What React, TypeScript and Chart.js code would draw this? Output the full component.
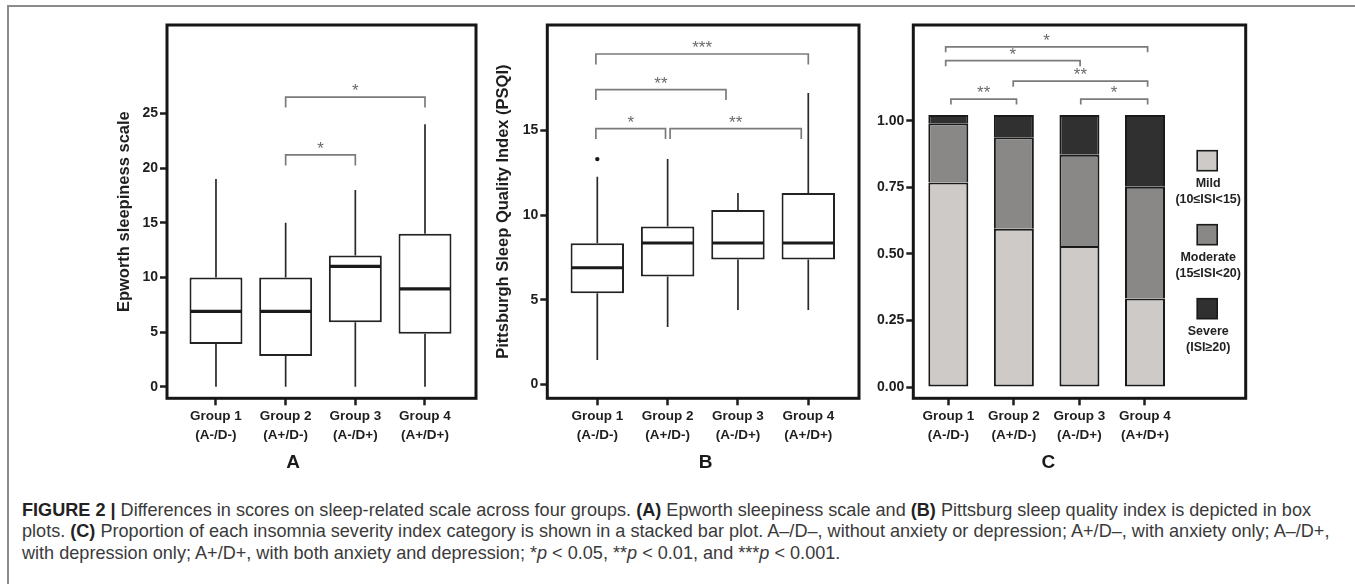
import React, { useEffect, useRef } from 'react';
import { Chart, registerables } from 'chart.js';

Chart.register(...registerables);

const FONT = "'Liberation Sans', Arial, Helvetica, sans-serif";
const INK = '#1e1e1e';
const BRACKET = '#7b7b7b';

// ---------- shared categories ----------
const groupPositions = [1, 2, 3, 4];
const groupLabels = [
  ['Group 1', '(A-/D-)'],
  ['Group 2', '(A+/D-)'],
  ['Group 3', '(A-/D+)'],
  ['Group 4', '(A+/D+)'],
];

// ---------- Panel A: Epworth sleepiness scale ----------
const essMin = [0, 0, 0, 0];
const essQ1 = [3.9, 2.8, 5.9, 4.85];
const essMedian = [6.9, 6.9, 11, 8.95];
const essQ3 = [10, 10, 12, 14];
const essMax = [19, 15, 18, 24];
const essOutliers: number[][] = [[], [], [], []];
const essTicks = [0, 5, 10, 15, 20, 25];
const essBrackets = [
  { from: 2, to: 3, y: 21.2, label: '*' },
  { from: 2, to: 4, y: 26.5, label: '*' },
];

// ---------- Panel B: PSQI ----------
const psqiMin = [1.45, 3.4, 4.4, 4.4];
const psqiQ1 = [5.38, 6.38, 7.38, 7.38];
const psqiMedian = [6.89, 8.35, 8.35, 8.35];
const psqiQ3 = [8.33, 9.33, 10.3, 11.3];
const psqiMax = [12.26, 13.3, 11.3, 17.2];
const psqiOutliers: number[][] = [[13.3], [], [], []];
const psqiTicks = [0, 5, 10, 15];
const psqiBrackets = [
  { from: 0.98, to: 4.0, y: 19.5, label: '***' },
  { from: 0.98, to: 2.83, y: 17.4, label: '**' },
  { from: 0.98, to: 1.97, y: 15.1, label: '*' },
  { from: 2.035, to: 3.9, y: 15.1, label: '**' },
];

// ---------- Panel C: ISI categories ----------
const isiCategories = ['Mild', 'Moderate', 'Severe'];
const isiLegendLines = [
  ['Mild', '(10≤ISI<15)'],
  ['Moderate', '(15≤ISI<20)'],
  ['Severe', '(ISI≥20)'],
];
const mildShare = [0.768, 0.594, 0.53, 0.333];
const moderateShare = [0.222, 0.344, 0.342, 0.419];
const severeShare = [0.031, 0.083, 0.149, 0.269];
const isiColors = ['#cdcac7', '#8a8886', '#303030'];
const isiTicks = [0, 0.25, 0.5, 0.75, 1.0];
const isiBrackets = [
  { from: 0.96, to: 4.04, y: 1.277, label: '*' },
  { from: 0.96, to: 3.01, y: 1.225, label: '*' },
  { from: 1.99, to: 4.04, y: 1.148, label: '**' },
  { from: 1.04, to: 2.04, y: 1.081, label: '**' },
  { from: 3.02, to: 4.04, y: 1.081, label: '*' },
];

type Bracket = { from: number; to: number; y: number; label: string };

const framePlugin = {
  id: 'frame',
  afterDatasetsDraw(chart: any) {
    const { ctx, chartArea: a } = chart;
    ctx.save();
    ctx.strokeStyle = '#161616';
    ctx.lineWidth = 3;
    ctx.strokeRect(a.left, a.top, a.right - a.left, a.bottom - a.top);
    ctx.restore();
  },
};

function bracketPlugin(brackets: Bracket[], drop: number) {
  return {
    id: 'brackets',
    afterDatasetsDraw(chart: any) {
      const { ctx } = chart;
      const xs = chart.scales.x;
      const ys = chart.scales.y;
      ctx.save();
      ctx.strokeStyle = BRACKET;
      ctx.lineWidth = 1.7;
      ctx.fillStyle = '#6a6a6a';
      ctx.font = `17px ${FONT}`;
      ctx.textAlign = 'center';
      ctx.textBaseline = 'alphabetic';
      brackets.forEach((b) => {
        const x1 = xs.getPixelForValue(b.from);
        const x2 = xs.getPixelForValue(b.to);
        const yy = ys.getPixelForValue(b.y);
        ctx.beginPath();
        ctx.moveTo(x1, yy + drop);
        ctx.lineTo(x1, yy);
        ctx.lineTo(x2, yy);
        ctx.lineTo(x2, yy + drop);
        ctx.stroke();
        ctx.fillText(b.label, (x1 + x2) / 2, yy - 1);
      });
      ctx.restore();
    },
  };
}

function boxPlugin(mins: number[], q1: number[], med: number[], q3: number[], maxs: number[], outl: number[][]) {
  return {
    id: 'boxExtras',
    afterDatasetsDraw(chart: any) {
      const { ctx } = chart;
      const xs = chart.scales.x;
      const ys = chart.scales.y;
      const meta = chart.getDatasetMeta(0);
      ctx.save();
      meta.data.forEach((bar: any, i: number) => {
        const w = bar.width;
        const cx = xs.getPixelForValue(groupPositions[i]);
        ctx.strokeStyle = '#2a2a2a';
        ctx.lineWidth = 1.7;
        ctx.beginPath();
        ctx.moveTo(cx, ys.getPixelForValue(q3[i]));
        ctx.lineTo(cx, ys.getPixelForValue(maxs[i]));
        ctx.moveTo(cx, ys.getPixelForValue(q1[i]));
        ctx.lineTo(cx, ys.getPixelForValue(mins[i]));
        ctx.stroke();
        const ym = ys.getPixelForValue(med[i]);
        ctx.lineWidth = 3.2;
        ctx.strokeStyle = '#1a1a1a';
        ctx.beginPath();
        ctx.moveTo(cx - w / 2 + 1, ym);
        ctx.lineTo(cx + w / 2 - 1, ym);
        ctx.stroke();
        ctx.fillStyle = '#1a1a1a';
        outl[i].forEach((v) => {
          ctx.beginPath();
          ctx.arc(cx, ys.getPixelForValue(v), 2.2, 0, Math.PI * 2);
          ctx.fill();
        });
      });
      ctx.restore();
    },
  };
}

const isiLegendPlugin = {
  id: 'isiLegend',
  afterDatasetsDraw(chart: any) {
    const { ctx, chartArea: a } = chart;
    const cx = a.right - 38.5;
    ctx.save();
    chart.data.datasets.forEach((ds: any, i: number) => {
      const top = a.top + 125.7 + i * 74;
      ctx.fillStyle = ds.backgroundColor;
      ctx.fillRect(cx - 10, top, 20, 20);
      ctx.strokeStyle = '#1a1a1a';
      ctx.lineWidth = 1.6;
      ctx.strokeRect(cx - 10, top, 20, 20);
      ctx.fillStyle = '#222';
      ctx.font = `bold 12.5px ${FONT}`;
      ctx.textAlign = 'center';
      ctx.textBaseline = 'middle';
      const lines = isiLegendLines[i];
      ctx.fillText(lines[0], cx + 1, top + 32.6);
      ctx.fillText(lines[1], cx + 1, top + 49.3);
    });
    ctx.restore();
  },
};

function axisGrid() {
  return {
    display: true,
    offset: false,
    drawOnChartArea: false,
    drawTicks: true,
    tickLength: 7,
    tickWidth: 2.5,
    tickColor: INK,
  };
}

function makeScales(p: {
  xMin: number; xMax: number; yMin: number; yMax: number; yTicks: number[];
  yFmt: (v: number) => string; yWidth: number; title?: string; titlePad?: number; stacked?: boolean;
}) {
  return {
    x: {
      type: 'linear',
      min: p.xMin,
      max: p.xMax,
      offset: false,
      stacked: !!p.stacked,
      afterBuildTicks: (s: any) => { s.ticks = groupPositions.map((v) => ({ value: v })); },
      afterFit: (s: any) => { s.height = 81.7; },
      grid: axisGrid(),
      border: { display: false },
      ticks: {
        autoSkip: false, maxRotation: 0, minRotation: 0, padding: 2, color: INK,
        font: { family: FONT, size: 13.5, weight: 'bold', lineHeight: 1.4 },
        callback: (_v: any, i: number) => groupLabels[i],
      },
    },
    y: {
      type: 'linear',
      min: p.yMin,
      max: p.yMax,
      stacked: !!p.stacked,
      afterBuildTicks: (s: any) => { s.ticks = p.yTicks.map((v) => ({ value: v })); },
      afterFit: (s: any) => { s.width = p.yWidth; },
      grid: axisGrid(),
      border: { display: false },
      ticks: {
        padding: 2, color: INK,
        font: { family: FONT, size: 14, weight: 'bold' },
        callback: (v: any) => p.yFmt(Number(v)),
      },
      title: p.title
        ? { display: true, text: p.title, color: INK, font: { family: FONT, size: 16.5, weight: 'bold' }, padding: { top: p.titlePad, bottom: 0 } }
        : { display: false },
    },
  };
}

function baseOptions(padRight: number) {
  return {
    responsive: false,
    maintainAspectRatio: false,
    animation: false,
    events: [],
    layout: { padding: { top: 25, right: padRight, left: 0, bottom: 0 } },
    plugins: { legend: { display: false }, tooltip: { enabled: false }, title: { display: false } },
  };
}

function makeBoxChart(canvas: HTMLCanvasElement, cfg: any) {
  return new Chart(canvas, {
    type: 'bar',
    data: {
      datasets: [
        {
          label: 'IQR',
          data: groupPositions.map((x, i) => ({ x, y: [cfg.q1[i], cfg.q3[i]] })) as any,
          backgroundColor: '#ffffff',
          borderColor: '#222',
          borderWidth: 2,
          borderSkipped: false,
          barPercentage: 0.76,
          categoryPercentage: 1,
        },
      ],
    },
    options: {
      ...baseOptions(cfg.padRight),
      scales: makeScales({
        xMin: cfg.xMin, xMax: cfg.xMax, yMin: cfg.yMin, yMax: cfg.yMax, yTicks: cfg.yTicks,
        yFmt: (v) => String(v), yWidth: cfg.yWidth, title: cfg.title, titlePad: cfg.titlePad,
      }),
    } as any,
    plugins: [
      boxPlugin(cfg.min, cfg.q1, cfg.median, cfg.q3, cfg.max, cfg.outliers),
      bracketPlugin(cfg.brackets, 10.5),
      framePlugin,
    ],
  });
}

function makeIsiChart(canvas: HTMLCanvasElement) {
  const shares = [mildShare, moderateShare, severeShare];
  return new Chart(canvas, {
    type: 'bar',
    data: {
      datasets: isiCategories.map((name, k) => ({
        label: name,
        data: groupPositions.map((x, i) => ({ x, y: shares[k][i] })) as any,
        backgroundColor: isiColors[k],
        borderColor: '#1a1a1a',
        borderWidth: 2,
        borderSkipped: k === 0 ? false : 'bottom',
        barPercentage: 0.61,
        categoryPercentage: 1,
      })),
    },
    options: {
      ...baseOptions(109.3),
      scales: makeScales({
        xMin: 0.466, xMax: 5.536, yMin: -0.042, yMax: 1.359, yTicks: isiTicks,
        yFmt: (v) => v.toFixed(2), yWidth: 53.3, stacked: true,
      }),
    } as any,
    plugins: [bracketPlugin(isiBrackets, 5.5), isiLegendPlugin, framePlugin],
  });
}

export default function App() {
  const aRef = useRef<HTMLCanvasElement>(null);
  const bRef = useRef<HTMLCanvasElement>(null);
  const cRef = useRef<HTMLCanvasElement>(null);

  useEffect(() => {
    const charts: Chart[] = [];
    charts.push(
      makeBoxChart(aRef.current!, {
        min: essMin, q1: essQ1, median: essMedian, q3: essQ3, max: essMax, outliers: essOutliers,
        brackets: essBrackets, yTicks: essTicks, xMin: 0.297, xMax: 4.732, yMin: -1.06, yMax: 33.09,
        yWidth: 67, padRight: 24, title: 'Epworth sleepiness scale', titlePad: 14.1,
      })
    );
    charts.push(
      makeBoxChart(bRef.current!, {
        min: psqiMin, q1: psqiQ1, median: psqiMedian, q3: psqiQ3, max: psqiMax, outliers: psqiOutliers,
        brackets: psqiBrackets, yTicks: psqiTicks, xMin: 0.289, xMax: 4.721, yMin: -0.81, yMax: 21.21,
        yWidth: 67.3, padRight: 21, title: 'Pittsburgh Sleep Quality Index (PSQI)', titlePad: 13.1,
      })
    );
    charts.push(makeIsiChart(cRef.current!));
    return () => charts.forEach((c) => c.destroy());
  }, []);

  const letter = (text: string, cx: number) => (
    <div
      style={{
        position: 'absolute', left: cx - 20, top: 452, width: 40, textAlign: 'center',
        fontFamily: FONT, fontSize: 19, lineHeight: '20px', fontWeight: 'bold', color: '#1a1a1a',
      }}
    >
      {text}
    </div>
  );

  const bold = { color: '#222' };

  return (
    <div style={{ position: 'absolute', left: 0, top: 0, width: 1355, height: 584, background: '#fff', overflow: 'hidden' }}>
      <div style={{ position: 'absolute', left: 6.5, top: 4.8, width: 1349, height: 2, background: '#8c8c8c' }} />
      <div style={{ position: 'absolute', left: 6.5, top: 4.8, width: 2, height: 580, background: '#8c8c8c' }} />
      <canvas ref={aRef} width={400} height={480} style={{ position: 'absolute', left: 100, top: 0, width: 400, height: 480 }} />
      <canvas ref={bRef} width={400} height={480} style={{ position: 'absolute', left: 480, top: 0, width: 400, height: 480 }} />
      <canvas ref={cRef} width={495} height={480} style={{ position: 'absolute', left: 860, top: 0, width: 495, height: 480 }} />
      {letter('A', 293)}
      {letter('B', 705.5)}
      {letter('C', 1048.3)}
      <div
        style={{
          position: 'absolute', left: 22, top: 499.5, fontFamily: FONT, fontSize: 18.1,
          lineHeight: '21.5px', color: '#3a3a3a', whiteSpace: 'nowrap',
        }}
      >
        <div>
          <b style={bold}>FIGURE 2 |</b> Differences in scores on sleep-related scale across four groups.{' '}
          <b style={bold}>(A)</b> Epworth sleepiness scale and <b style={bold}>(B)</b> Pittsburg sleep quality index is depicted in box
        </div>
        <div>
          plots. <b style={bold}>(C)</b> Proportion of each insomnia severity index category is shown in a stacked bar plot. A–/D–, without anxiety or depression; A+/D–, with anxiety only; A–/D+,
        </div>
        <div>
          with depression only; A+/D+, with both anxiety and depression; *<i>p</i> &lt; 0.05, **<i>p</i> &lt; 0.01, and ***<i>p</i> &lt; 0.001.
        </div>
      </div>
    </div>
  );
}
